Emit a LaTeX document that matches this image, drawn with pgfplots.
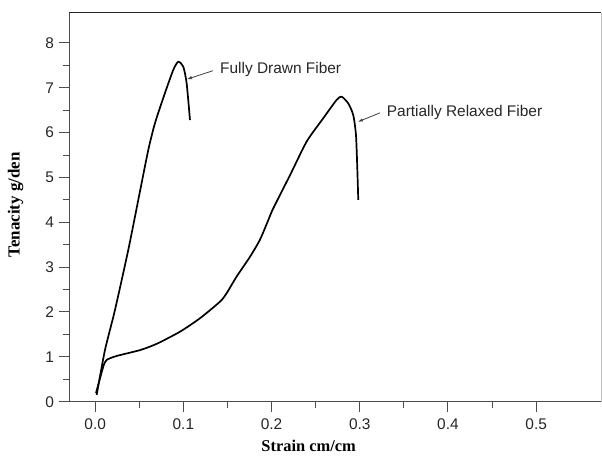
\documentclass[border=0pt]{standalone}
\usepackage{fontspec}
\setmainfont{Liberation Sans}
\newfontfamily\labelfont{Liberation Serif}
\usepackage{pgfplots}
\pgfplotsset{compat=1.18}
\usetikzlibrary{arrows.meta}
\begin{document}
\begin{tikzpicture}
\begin{axis}[name=ax, at={(0,0)}, anchor=south west,
  scale only axis, width=531.5bp, height=389bp,
  xmin=-0.0291, xmax=0.5735, ymin=0, ymax=8.673,
  clip=false,
  axis lines*=left,
  axis line style={-, line width=1.4bp, black!70},
  xtick={0,0.1,0.2,0.3,0.4,0.5}, ytick={0,1,2,3,4,5,6,7,8},
  minor x tick num=1, minor y tick num=1,
  tick align=outside, major tick length=10bp, minor tick length=6bp,
  every tick/.style={line width=1bp, black!70},
  /pgf/number format/assume math mode=true,
  ticklabel style={font=\fontsize{15.5}{18}\selectfont, text=black!85},
  xticklabel shift=3bp, yticklabel shift=2bp,
  xticklabel style={/pgf/number format/fixed, /pgf/number format/fixed zerofill, /pgf/number format/precision=1},
  xlabel={Strain cm/cm},
  ylabel={Tenacity g/den},
  xlabel style={font=\labelfont\bfseries\fontsize{16.5}{19}\selectfont, at={(axis description cs:0.45,-0.1285)}, anchor=base, inner sep=0pt},
  ylabel style={font=\labelfont\bfseries\fontsize{17}{20}\selectfont, at={(axis description cs:-0.094,0.506)}, anchor=base, inner sep=0pt},
]
\addplot[black, line width=1.7bp, line join=round, smooth, tension=0.4] coordinates {
(0.0017,0.15) (0.0111,1.15) (0.0224,2.04) (0.0375,3.38) (0.0489,4.50)
(0.0602,5.61) (0.0678,6.21) (0.0791,6.88) (0.0886,7.40) (0.0942,7.58)
(0.0999,7.47) (0.1037,7.10) (0.1075,6.28)
};
\addplot[black, line width=1.7bp, line join=round, smooth, tension=0.4] coordinates {
(0.0009,0.19) (0.0092,0.78) (0.0130,0.93) (0.0244,1.02) (0.0508,1.15)
(0.0697,1.29) (0.0961,1.56) (0.1188,1.86) (0.1415,2.23) (0.1491,2.42)
(0.1604,2.79) (0.1755,3.23) (0.1868,3.61) (0.1963,4.05) (0.2019,4.31)
(0.2209,5.05) (0.2398,5.80) (0.2586,6.32) (0.2738,6.73) (0.2795,6.80)
(0.2870,6.65) (0.2926,6.39) (0.2957,5.95) (0.2972,5.20) (0.2983,4.50)
};
\draw[line width=1.2bp, black!85] (rel axis cs:0,1) -- (rel axis cs:1,1);
\draw[line width=0.8bp, black!25] (rel axis cs:1,0) -- (rel axis cs:1,1);
\node[anchor=base west, inner sep=0pt, font=\fontsize{15.5}{18}\selectfont, text=black!85] at (axis cs:0.1415,7.32) {Fully Drawn Fiber};
\draw[-{Latex[length=5bp,width=3.5bp]}, line width=0.8bp, black!75] (axis cs:0.1336,7.38) -- (axis cs:0.1041,7.19);
\node[anchor=base west, inner sep=0pt, font=\fontsize{15.5}{18}\selectfont, text=black!85] at (axis cs:0.3305,6.35) {Partially Relaxed Fiber};
\draw[-{Latex[length=5bp,width=3.5bp]}, line width=0.8bp, black!75] (axis cs:0.3229,6.44) -- (axis cs:0.2979,6.24);
\end{axis}
\pgfresetboundingbox
\path[use as bounding box] ([shift={(-69.5bp,-55.3bp)}]ax.south west) rectangle ([shift={(1bp,12.7bp)}]ax.north east);
\end{tikzpicture}
\end{document}
